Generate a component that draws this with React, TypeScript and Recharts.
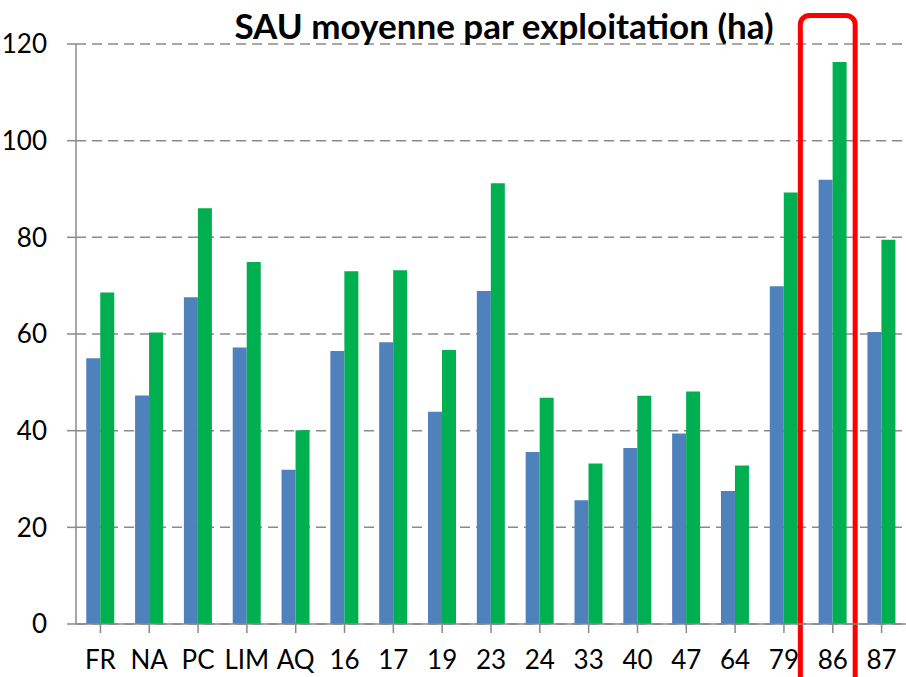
import React from "react";
import { BarChart, Bar, XAxis, YAxis, CartesianGrid, ReferenceArea } from "recharts";

const categories = ["FR", "NA", "PC", "LIM", "AQ", "16", "17", "19", "23", "24", "33", "40", "47", "64", "79", "86", "87"];
const serieBleue = [55.0, 47.3, 67.6, 57.2, 31.9, 56.5, 58.3, 43.9, 68.9, 35.6, 25.6, 36.4, 39.4, 27.5, 69.9, 91.9, 60.4];
const serieVerte = [68.6, 60.3, 86.0, 74.9, 40.1, 73.0, 73.2, 56.7, 91.2, 46.8, 33.2, 47.2, 48.1, 32.8, 89.3, 116.3, 79.5];
const yTicks = [0, 20, 40, 60, 80, 100, 120];
const highlighted = "86";
const title = "SAU moyenne par exploitation (ha)";

const data = categories.map((c, i) => ({ cat: c, bleu: serieBleue[i], vert: serieVerte[i] }));

const font = "Lato, 'Open Sans', sans-serif";

function Highlight(props: any) {
  const { x, width } = props;
  return (
    <rect
      x={x - 8}
      y={15.5}
      width={width + 6}
      height={720}
      rx={9}
      ry={9}
      fill="none"
      stroke="#FF0000"
      strokeWidth={5}
    />
  );
}

export default function App() {
  return (
    <div style={{ position: "absolute", left: 0, top: 0, width: 906, height: 677, background: "#fff", overflow: "hidden" }}>
      <BarChart
        width={906}
        height={677}
        data={data}
        margin={{ top: 44, right: 0, bottom: 0, left: 0 }}
        barCategoryGap="21%"
        barGap={0}
      >
        <CartesianGrid vertical={false} stroke="#8a8a8a" strokeWidth={1.5} strokeDasharray="10 6" />
        <XAxis
          dataKey="cat"
          height={53}
          interval={0}
          tickSize={9}
          tickMargin={18}
          axisLine={{ stroke: "#8a8a8a", strokeWidth: 1.5 }}
          tickLine={{ stroke: "#8a8a8a", strokeWidth: 1.5 }}
          tick={{ fill: "#000", fontSize: 26, fontFamily: font }}
        />
        <YAxis
          width={76}
          domain={[0, 120]}
          ticks={yTicks}
          tickSize={9}
          tickMargin={20}
          axisLine={{ stroke: "#8a8a8a", strokeWidth: 1.5 }}
          tickLine={{ stroke: "#8a8a8a", strokeWidth: 1.5 }}
          tick={{ fill: "#000", fontSize: 26, fontFamily: font }}
        />
        <Bar dataKey="bleu" fill="#4F81BD" isAnimationActive={false} />
        <Bar dataKey="vert" fill="#00B050" isAnimationActive={false} />
        <ReferenceArea x1={highlighted} x2={highlighted} ifOverflow="visible" shape={<Highlight />} />
      </BarChart>
      <svg width={906} height={60} style={{ position: "absolute", left: 0, top: 0, pointerEvents: "none" }}>
        <text x={504} y={39} textAnchor="middle" fontFamily={font} fontWeight="bold" fontSize={35} fill="#000">
          {title}
        </text>
      </svg>
    </div>
  );
}
